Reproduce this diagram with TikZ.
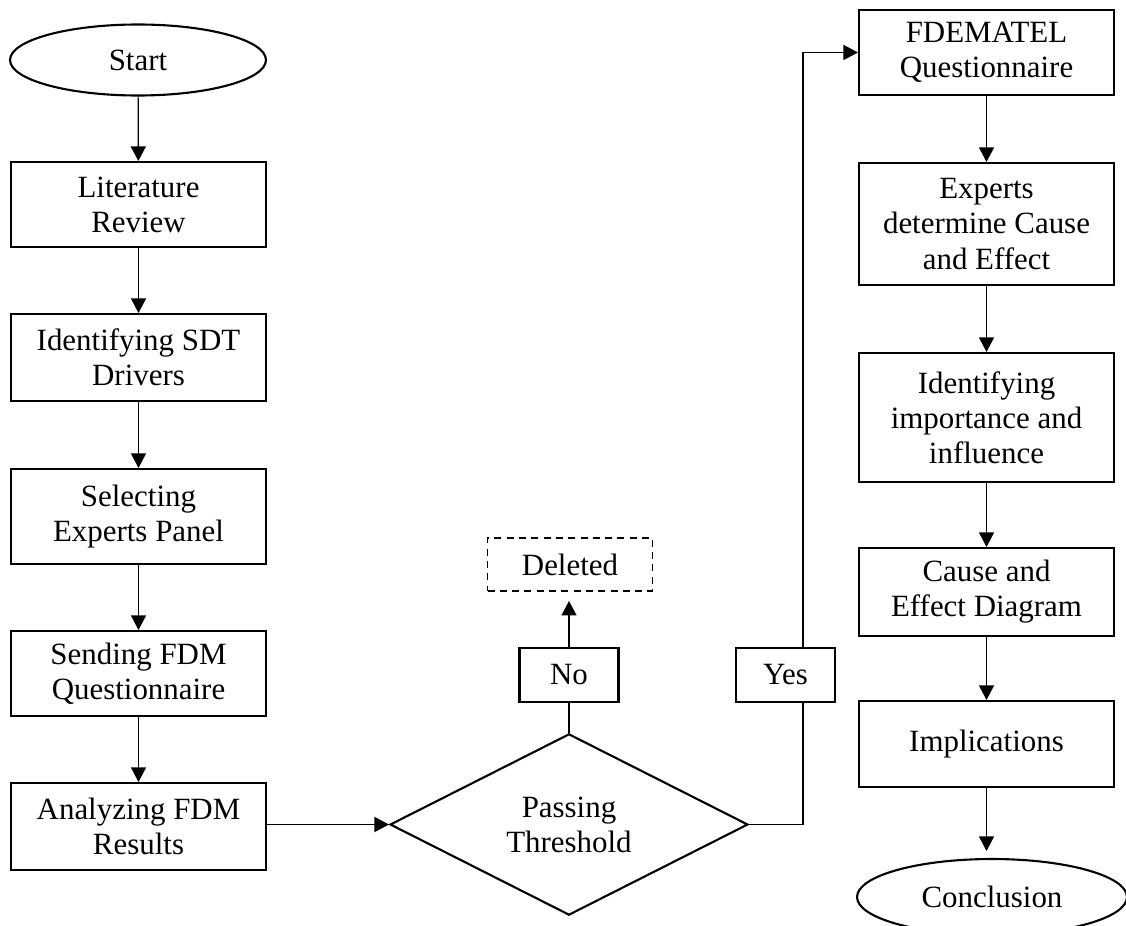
\documentclass[tikz,border=0pt]{standalone}
\usepackage{fontspec}
\setmainfont{Liberation Serif}
\usetikzlibrary{shapes.geometric,arrows.meta,positioning}
\tikzset{
  stepbox/.style={draw, line width=1.2pt, minimum width=5.1cm, align=center, inner sep=2pt},
  termnode/.style={draw, ellipse, line width=1.2pt, inner sep=0pt},
  decnode/.style={draw, diamond, line width=1.2pt, inner sep=0pt, align=center},
  delbox/.style={draw, line width=1.1pt, dash pattern=on 4pt off 3pt, minimum width=3.3cm, minimum height=1.06cm},
  ansbox/.style={draw, line width=1.2pt, minimum width=1.98cm, minimum height=1.08cm},
  edgeln/.style={black, line width=0.7pt, -{Triangle[length=0.29cm,width=0.3cm]}},
  edgepl/.style={black, line width=0.7pt}
}

\begin{document}
\begin{tikzpicture}[x=0.02cm, y=-0.02cm, font=\fontsize{17.6}{20}\selectfont]
\useasboundingbox (0,0) rectangle (1126,926);
% left column
\node[termnode, minimum width=5.12cm, minimum height=1.42cm] (st) at (138,60) {Start};
\node[stepbox, minimum height=1.70cm] (lit) at (138.5,204.5) {Literature\\Review};
\node[stepbox, minimum height=1.74cm] (sdt) at (138.5,357.5) {Identifying SDT\\Drivers};
\node[stepbox, minimum height=1.90cm] (sel) at (138.5,516.5) {Selecting\\Experts Panel};
\node[stepbox, minimum height=1.70cm] (snd) at (138.5,673.5) {Sending FDM\\Questionnaire};
\node[stepbox, minimum height=1.74cm] (afd) at (138.5,826.5) {Analyzing FDM\\Results};
% decision
\node[decnode, minimum width=7.16cm, minimum height=3.5cm] (pass) at (569,824.5) {Passing\\Threshold};
\node[ansbox] (no) at (569,675) {No};
\node[delbox] (del) at (570,564.5) {Deleted};
\node[ansbox] (yes) at (785.5,675) {Yes};
\coordinate (yesx) at (803,0);
% right column
\node[stepbox, minimum height=1.70cm] (fdq) at (986.5,52.5) {FDEMATEL\\Questionnaire};
\node[stepbox, minimum height=2.44cm] (exd) at (986.5,224) {Experts\\determine Cause\\and Effect};
\node[stepbox, minimum height=2.58cm] (imp) at (986.5,417.5) {Identifying\\importance and\\influence};
\node[stepbox, minimum height=1.76cm] (ced) at (986.5,592) {Cause and\\Effect Diagram};
\node[stepbox, minimum height=1.72cm] (impl) at (986.5,744) {Implications};
\node[termnode, minimum width=5.4cm, minimum height=1.52cm] (con) at (992,897) {Conclusion};

\draw[edgeln] (st) -- (lit);
\draw[edgeln] (lit) -- (sdt);
\draw[edgeln] (sdt) -- (sel);
\draw[edgeln] (sel) -- (snd);
\draw[edgeln] (snd) -- (afd);
\draw[edgeln] (afd.east |- pass.west) -- (pass.west);
\draw[edgepl] (pass.north) -- (no.south);
\draw[edgeln, shorten >=0.18cm] (no.north) -- (no.north |- del.south);
\draw[edgepl] (pass.east) -| (yesx |- yes.south);
\draw[edgeln] (yesx |- yes.north) |- (fdq.west);
\draw[edgeln] (fdq) -- (exd);
\draw[edgeln] (exd) -- (imp);
\draw[edgeln] (imp) -- (ced);
\draw[edgeln] (ced) -- (impl);
\draw[edgeln, shorten >=0.14cm] (impl.south) -- (impl.south |- con.north);
\end{tikzpicture}
\end{document}
